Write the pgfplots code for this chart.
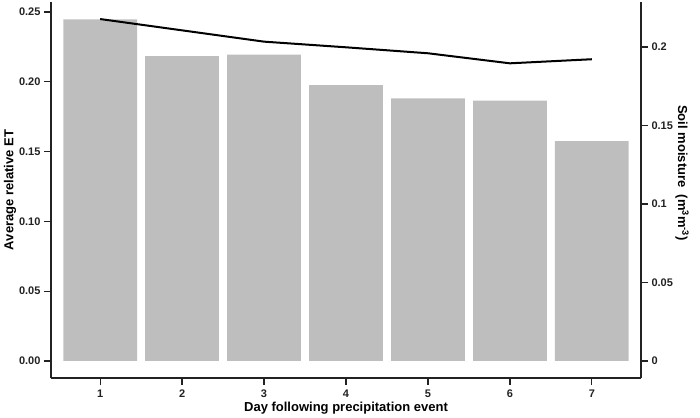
\documentclass[border=0pt]{standalone}
\usepackage{pgfplots}
\pgfplotsset{compat=1.18}
\usepackage{fontspec}
\setmainfont{Liberation Sans}
\definecolor{bargray}{HTML}{BEBEBE}
\definecolor{axgray}{HTML}{222222}
\begin{document}
\begin{tikzpicture}
\pgfplotsset{
  every axis/.append style={
    scale only axis, width=590pt, height=376pt,
    at={(51pt,39pt)}, anchor=south west,
    xmin=0.4, xmax=7.6,
    tick style={line width=1.3pt, color=axgray},
    major tick length=7pt,
    axis line style={line width=1.1pt, color=axgray},
    tick label style={font=\fontsize{11}{13}\selectfont\bfseries, text=axgray},
    label style={font=\fontsize{13}{15}\selectfont\bfseries, text=black},
    /pgf/number format/assume math mode=true,
  }
}
\begin{axis}[
  axis x line*=bottom, axis y line*=left,
  ymin=-0.01218, ymax=0.2572,
  xtick={1,2,3,4,5,6,7},
  ytick={0,0.05,0.1,0.15,0.2,0.25},
  yticklabel style={/pgf/number format/fixed, /pgf/number format/fixed zerofill, /pgf/number format/precision=2},
  xticklabel style={yshift=-1pt},
  tick align=outside,
  xlabel={Day following precipitation event},
  ylabel={Average relative ET},
  xlabel style={at={(axis description cs:0.5,-0.0798)}, anchor=center},
  ylabel style={at={(axis description cs:-0.0695,0.5)}, anchor=center, rotate=0},
]
\addplot[ybar, bar width=0.9, bar shift=0pt, fill=bargray, draw=none] coordinates {
  (1,0.2447) (2,0.2185) (3,0.2195) (4,0.1977) (5,0.1882) (6,0.1865) (7,0.1576)
};
\end{axis}
\begin{axis}[
  axis x line=none, axis y line*=right,
  ymin=-0.01083, ymax=0.22866,
  ytick={0,0.05,0.1,0.15,0.2},
  yticklabels={0,0.05,0.1,0.15,0.2},
  tick align=outside,
  ylabel={Soil moisture\ \ (m\textsuperscript{3}m\textsuperscript{-3})},
  ylabel style={at={(axis description cs:1.0695,0.545)}, anchor=center, rotate=180},
]
\addplot[black, line width=2pt, mark=none] coordinates {
  (1,0.2178) (2,0.2106) (3,0.2034) (4,0.1998) (5,0.1960) (6,0.1896) (7,0.1922)
};
\end{axis}
\pgfresetboundingbox
\useasboundingbox (0,0) rectangle (700pt,417pt);
\end{tikzpicture}
\end{document}
